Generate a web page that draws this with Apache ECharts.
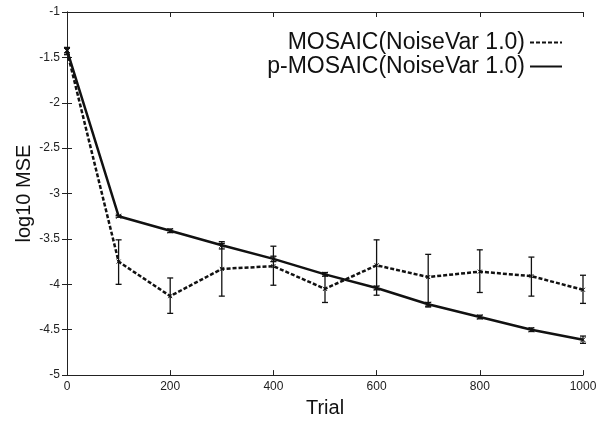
<!DOCTYPE html>
<html><head><meta charset="utf-8">
<script src="https://cdn.jsdelivr.net/npm/echarts@6/dist/echarts.min.js"></script>
<style>html,body{margin:0;padding:0;background:#fff;}#c{width:603px;height:423px;}</style>
</head><body><div id="c"></div>
<script>
const trials = [0, 100, 200, 300, 400, 500, 600, 700, 800, 900, 1000];
const mosaic = [-1.43, -3.75, -4.13, -3.83, -3.80, -4.05, -3.79, -3.92, -3.86, -3.91, -4.06];
const mosaicLow = [-1.47, -4.00, -4.32, -4.13, -4.01, -4.20, -4.12, -4.25, -4.09, -4.13, -4.21];
const mosaicHigh = [-1.40, -3.51, -3.93, -3.55, -3.58, -3.89, -3.51, -3.67, -3.62, -3.70, -3.90];
const pmosaic = [-1.42, -3.25, -3.41, -3.57, -3.72, -3.89, -4.04, -4.22, -4.36, -4.50, -4.61];
const pLow = [-1.45, -3.26, -3.43, -3.61, -3.75, -3.91, -4.06, -4.24, -4.38, -4.52, -4.65];
const pHigh = [-1.39, -3.24, -3.39, -3.53, -3.69, -3.87, -4.02, -4.20, -4.34, -4.48, -4.57];
const nameA = 'MOSAIC(NoiseVar 1.0)';
const nameB = 'p-MOSAIC(NoiseVar 1.0)';

const FONT = 'Liberation Sans, Arial, sans-serif';
const chart = echarts.init(document.getElementById('c'));

function errBar(lowArr, highArr, w) {
  return {
    type: 'custom',
    silent: true,
    z: 3,
    data: trials.map((t, i) => [t, lowArr[i], highArr[i]]),
    renderItem: function (params, api) {
      const lo = api.coord([api.value(0), api.value(1)]);
      const hi = api.coord([api.value(0), api.value(2)]);
      const c = 3;
      const st = { stroke: '#111', lineWidth: w };
      return {
        type: 'group',
        children: [
          { type: 'line', shape: { x1: lo[0], y1: lo[1], x2: hi[0], y2: hi[1] }, style: st },
          { type: 'line', shape: { x1: lo[0] - c, y1: lo[1], x2: lo[0] + c, y2: lo[1] }, style: st },
          { type: 'line', shape: { x1: hi[0] - c, y1: hi[1], x2: hi[0] + c, y2: hi[1] }, style: st }
        ]
      };
    }
  };
}

const axisCommon = {
  axisLine: { show: true, lineStyle: { color: '#222', width: 1 } },
  axisTick: { show: true, inside: true, length: 5, lineStyle: { color: '#222' } },
  splitLine: { show: false }
};

const legendCommon = {
  right: 35, align: 'right', orient: 'vertical',
  itemWidth: 32, itemHeight: 10,
  textStyle: { fontFamily: FONT, fontSize: 23, color: '#111' },
  itemStyle: { opacity: 0 }
};

chart.setOption({
  animation: false,
  backgroundColor: '#fff',
  grid: { left: 67, right: 20, top: 12, bottom: 44 },
  legend: [
    Object.assign({ data: [nameA], top: 26 }, legendCommon),
    Object.assign({ data: [nameB], top: 50 }, legendCommon)
  ],
  xAxis: [
    Object.assign({
      type: 'value', min: 0, max: 1000, interval: 200, position: 'bottom',
      name: 'Trial', nameLocation: 'middle', nameGap: 20,
      nameTextStyle: { fontFamily: FONT, fontSize: 20, color: '#111' },
      axisLabel: { fontFamily: FONT, fontSize: 12, color: '#222', margin: 6,
        formatter: function (v) { return String(v); } }
    }, axisCommon),
    Object.assign({
      type: 'value', min: 0, max: 1000, interval: 200, position: 'top',
      axisLabel: { show: false }
    }, axisCommon)
  ],
  yAxis: [
    Object.assign({
      type: 'value', min: -5, max: -1, interval: 0.5, position: 'left',
      name: 'log10 MSE', nameLocation: 'middle', nameGap: 33, nameMoveOverlap: false,
      nameTextStyle: { fontFamily: FONT, fontSize: 20, color: '#111' },
      axisLabel: { fontFamily: FONT, fontSize: 12, color: '#222', margin: 7 }
    }, axisCommon),
    Object.assign({
      type: 'value', min: -5, max: -1, interval: 0.5, position: 'right',
      axisLabel: { show: false }
    }, axisCommon)
  ],
  series: [
    {
      name: nameA, type: 'line', z: 4,
      data: trials.map((t, i) => [t, mosaic[i]]),
      symbol: 'path://M0,0L10,10M10,0L0,10', symbolSize: 4,
      itemStyle: { color: '#111', borderColor: '#111', borderWidth: 1 },
      lineStyle: { color: '#111', width: 2.5, type: [4, 2] }
    },
    {
      name: nameB, type: 'line', z: 4,
      data: trials.map((t, i) => [t, pmosaic[i]]),
      symbol: 'path://M0,0L10,10M10,0L0,10', symbolSize: 5,
      itemStyle: { color: '#111', borderColor: '#111', borderWidth: 1 },
      lineStyle: { color: '#111', width: 2.5 }
    },
    errBar(mosaicLow, mosaicHigh, 1.3),
    errBar(pLow, pHigh, 1.3)
  ]
});
</script></body></html>
